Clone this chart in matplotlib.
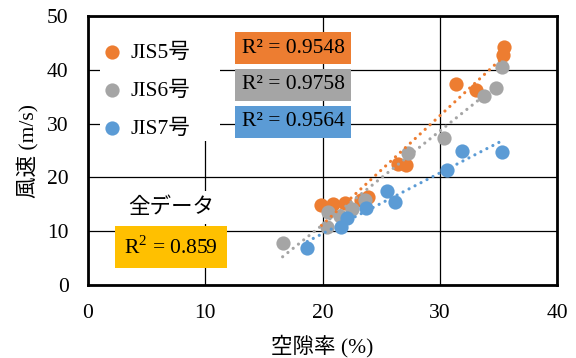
import matplotlib
matplotlib.use("Agg")
import matplotlib.pyplot as plt
from matplotlib.patches import Rectangle
import numpy as np

plt.rcParams["font.family"] = ["Liberation Serif", "Noto Sans CJK JP"]
plt.rcParams["mathtext.fontset"] = "custom"
plt.rcParams["mathtext.rm"] = "Liberation Serif"

# ── データ（空隙率 %, 風速 m/s）─────────────────────────────
jis5_x = [19.9, 20.9, 21.9, 23.3, 23.9, 26.4, 27.1, 31.4, 33.1, 35.4, 35.5]
jis5_y = [14.9, 15.0, 15.3, 15.8, 16.4, 22.5, 22.3, 37.4, 36.2, 42.8, 44.3]

jis6_x = [16.6, 20.4, 20.5, 21.5, 22.5, 23.6, 27.3, 30.4, 33.8, 34.8, 35.3]
jis6_y = [7.9, 10.8, 13.6, 12.8, 14.1, 15.8, 24.5, 27.3, 35.2, 36.7, 40.5]

jis7_x = [18.7, 21.6, 22.1, 23.7, 25.5, 26.2, 30.6, 31.9, 35.3]
jis7_y = [6.9, 10.7, 12.4, 14.4, 17.5, 15.5, 21.4, 25.0, 24.8]

labels = ["JIS5号", "JIS6号", "JIS7号"]
r2_labels = ["R² = 0.9548", "R² = 0.9758", "R² = 0.9564"]
r2_all = 0.859

COLORS = ["#ED7D31", "#A5A5A5", "#5B9BD5"]
FS = 15.5

fig = plt.figure(figsize=(5.76, 3.58), dpi=100)
ax = fig.add_axes([0.1528, 0.2039, 0.8142, 0.7514])

series = [(jis5_x, jis5_y), (jis6_x, jis6_y), (jis7_x, jis7_y)]
for (xs, ys), lab, c in zip(series, labels, COLORS):
    ax.scatter(xs, ys, s=105, color=c, label=lab, zorder=3, linewidths=0)

# 線形近似（点線）
for (xs, ys), c in zip(series, COLORS):
    xs = np.asarray(xs)
    a, b = np.polyfit(xs, ys, 1)
    xl = np.array([xs.min(), xs.max()])
    ax.plot(xl, a * xl + b, color=c, lw=2.3, ls=(0, (0.01, 2.1)),
            dash_capstyle="round", zorder=4)

ax.set_xlim(0, 40)
ax.set_ylim(0, 50)
ax.set_xticks(np.arange(0, 41, 10))
ax.set_yticks(np.arange(0, 51, 10))
ax.tick_params(length=0, labelsize=FS, pad=14)
ax.grid(True, color="black", lw=0.9, zorder=0)
ax.set_axisbelow(True)
for sp in ax.spines.values():
    sp.set_linewidth(2.0)

ax.set_xlabel("空隙率 (%)", fontsize=FS, labelpad=8)
ax.set_ylabel("風速 (m/s)", fontsize=FS, labelpad=6)

# 凡例の白地
ax.add_patch(Rectangle((0.026, 0.535), 0.256, 0.46, transform=ax.transAxes,
                       fc="white", ec="none", zorder=2))
leg = ax.legend(loc="upper left", bbox_to_anchor=(0.033, 0.90), fontsize=FS,
                frameon=False, handletextpad=0.45, labelspacing=0.83,
                borderpad=0, handlelength=0.8, borderaxespad=0)

# 各系列の決定係数
for lab, c, yy in zip(r2_labels, COLORS, [44.05, 37.2, 30.3]):
    ax.text(17.5, yy, lab, fontsize=FS, ha="center", va="center", zorder=5,
            bbox=dict(boxstyle="square,pad=0.3", fc=c, ec="none"))

ax.text(7.08, 14.4, "全データ", fontsize=FS, ha="center", va="center",
        zorder=5, bbox=dict(boxstyle="square,pad=0.3", fc="white", ec="none"))
ax.text(7.08, 7.06, f"R$^2$ = {r2_all}", fontsize=FS, ha="center",
        va="center", zorder=5,
        bbox=dict(boxstyle="square,pad=0.45", fc="#FFC000", ec="none"))

fig.savefig("out.png", dpi=100)
